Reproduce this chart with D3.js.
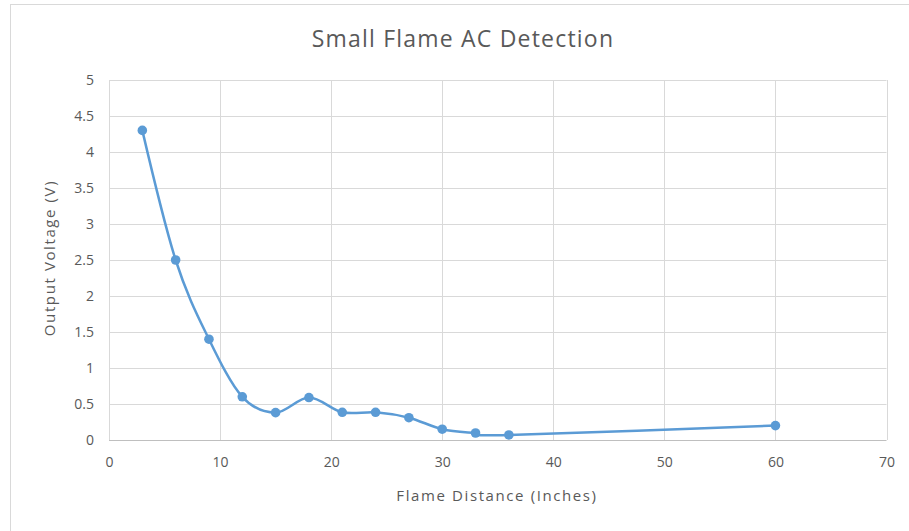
<!DOCTYPE html>
<html>
<head>
<meta charset="utf-8">
<script src="https://cdn.jsdelivr.net/npm/d3@7/dist/d3.min.js"></script>
<style>
  html, body { margin: 0; padding: 0; background: #fff; }
  svg { display: block; }
  text { font-family: "Open Sans", "Noto Sans", sans-serif; fill: #595959; }
</style>
</head>
<body>
<svg id="chart" width="909" height="531"></svg>
<script>
const distances = [3, 6, 9, 12, 15, 18, 21, 24, 27, 30, 33, 36, 60];
const voltages = [4.3, 2.5, 1.4, 0.6, 0.38, 0.59, 0.385, 0.385, 0.31, 0.15, 0.097, 0.07, 0.2];
const xTicks = [0, 10, 20, 30, 40, 50, 60, 70];
const yTicks = [0, 0.5, 1, 1.5, 2, 2.5, 3, 3.5, 4, 4.5, 5];
const titleText = "Small Flame AC Detection";
const xTitle = "Flame Distance (Inches)";
const yTitle = "Output Voltage (V)";

const svg = d3.select("#chart");
const W = 909, H = 531;
const plot = { left: 109, right: 886.5, top: 80, bottom: 440 };

// outer chart border
svg.append("rect")
  .attr("x", 10.5).attr("y", 4.5)
  .attr("width", W).attr("height", H)
  .attr("fill", "#fff").attr("stroke", "#d9d9d9").attr("stroke-width", 1);

const x = d3.scaleLinear().domain([0, 70]).range([plot.left, plot.right]);
const y = d3.scaleLinear().domain([0, 5]).range([plot.bottom, plot.top]);

// horizontal gridlines
svg.append("g").selectAll("line").data(yTicks.filter(d => d > 0)).join("line")
  .attr("x1", plot.left).attr("x2", plot.right)
  .attr("y1", d => Math.round(y(d)) + 0.5).attr("y2", d => Math.round(y(d)) + 0.5)
  .attr("stroke", "#d9d9d9").attr("stroke-width", 1);

// vertical gridlines
svg.append("g").selectAll("line").data(xTicks).join("line")
  .attr("x1", d => Math.round(x(d)) + 0.5).attr("x2", d => Math.round(x(d)) + 0.5)
  .attr("y1", plot.top).attr("y2", plot.bottom)
  .attr("stroke", "#d9d9d9").attr("stroke-width", 1);

// x axis line
svg.append("line")
  .attr("x1", plot.left).attr("x2", plot.right)
  .attr("y1", Math.round(y(0)) + 0.5).attr("y2", Math.round(y(0)) + 0.5)
  .attr("stroke", "#bfbfbf").attr("stroke-width", 1);

// tick labels
const xAxis = d3.axisBottom(x).tickValues(xTicks).tickSize(0).tickPadding(17).tickFormat(d3.format("d"));
const gx = svg.append("g").attr("transform", `translate(0,${plot.bottom})`).call(xAxis);
gx.select(".domain").remove();
gx.selectAll("text").style("font-size", "14px").attr("fill", "#595959")
  .style("font-family", '"Open Sans", "Noto Sans", sans-serif');

const yAxis = d3.axisLeft(y).tickValues(yTicks).tickSize(0).tickPadding(15).tickFormat(d => String(d));
const gy = svg.append("g").attr("transform", `translate(${plot.left},0)`).call(yAxis);
gy.select(".domain").remove();
gy.selectAll("text").style("font-size", "14px").attr("fill", "#595959")
  .style("font-family", '"Open Sans", "Noto Sans", sans-serif');

// title
svg.append("text").attr("x", 463).attr("y", 47).attr("text-anchor", "middle")
  .style("font-size", "23px").style("letter-spacing", "1.2px").text(titleText);

// axis titles
svg.append("text").attr("x", 497).attr("y", 501).attr("text-anchor", "middle")
  .style("font-size", "15px").style("letter-spacing", "1.6px").text(xTitle);
svg.append("text").attr("transform", "translate(55,258) rotate(-90)").attr("text-anchor", "middle")
  .style("font-size", "15px").style("letter-spacing", "1.6px").text(yTitle);

// series
const data = distances.map((d, i) => ({ x: d, y: voltages[i] }));
const line = d3.line().x(d => x(d.x)).y(d => y(d.y)).curve(d3.curveCatmullRom.alpha(0));
svg.append("path").datum(data).attr("d", line)
  .attr("fill", "none").attr("stroke", "#5b9bd5").attr("stroke-width", 2.5)
  .attr("stroke-linejoin", "round").attr("stroke-linecap", "round");

svg.append("g").selectAll("circle").data(data).join("circle")
  .attr("cx", d => x(d.x)).attr("cy", d => y(d.y)).attr("r", 4.8)
  .attr("fill", "#5b9bd5");
</script>
</body>
</html>
